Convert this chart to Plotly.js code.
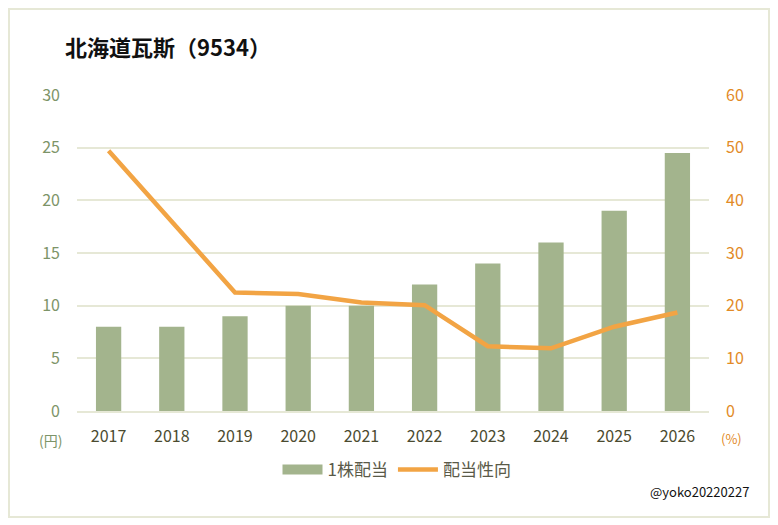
<!DOCTYPE html>
<html>
<head>
<meta charset="utf-8">
<script src="https://cdn.plot.ly/plotly-3.0.1.min.js"></script>
<style>
  html, body { margin: 0; padding: 0; background: #fff; }
  #chart { width: 778px; height: 525px; }
</style>
</head>
<body>
<div id="chart"></div>
<script>
// 北海道瓦斯 dividend data
const years = ["2017", "2018", "2019", "2020", "2021", "2022", "2023", "2024", "2025", "2026"];
const dividend = [8, 8, 9, 10, 10, 12, 14, 16, 19, 24.5];
const payoutRatio = [49.4, 36.1, 22.5, 22.2, 20.6, 20.1, 12.3, 11.9, 16.0, 18.7];

const chartDiv = document.getElementById("chart");
const font = '"Noto Sans CJK JP", "Noto Sans", sans-serif';
const gridColor = "#e6e8d6";
const barColor = '#a3b48d';

const barTrace = {
    x: years,
    y: dividend,
    type: 'bar',
    name: '1株配当',
    marker: { color: barColor },
    showlegend: false,
    yaxis: 'y'
};

// legend entry for the bars, drawn as a wide block like the original
const barLegend = {
    x: [null],
    y: [null],
    type: 'scatter',
    mode: 'lines',
    name: '1株配当',
    line: { color: barColor, width: 10 },
    hoverinfo: 'skip'
};

const lineTrace = {
    x: years,
    y: payoutRatio,
    type: 'scatter',
    mode: 'lines',
    name: '配当性向',
    line: { color: '#f2a444', width: 4.5 },
    yaxis: 'y2'
};

const layout = {
    width: 778,
    height: 525,
    margin: { l: 77, r: 69, t: 95, b: 114 },
    paper_bgcolor: '#ffffff',
    plot_bgcolor: '#ffffff',
    font: { family: font, size: 15 },
    title: {
        text: '<b>北海道瓦斯（9534）</b>',
        xref: 'container', yref: 'container',
        x: 65 / 778, y: 1 - 48 / 525,
        xanchor: 'left', yanchor: 'middle',
        font: { family: font, size: 22, color: '#111111' }
    },
    bargap: 0.6,
    xaxis: {
        type: 'category',
        showgrid: false,
        showline: true,
        linecolor: gridColor,
        linewidth: 2,
        ticks: '',
        ticklabelstandoff: 10,
        tickfont: { color: '#4b4b30', size: 16 }
    },
    yaxis: {
        range: [0, 30],
        dtick: 5,
        showgrid: true,
        gridcolor: gridColor,
        gridwidth: 2,
        zeroline: false,
        ticks: '',
        ticklabelstandoff: 16,
        tickfont: { color: '#7d9468', size: 16 }
    },
    yaxis2: {
        overlaying: 'y',
        side: 'right',
        range: [0, 60],
        dtick: 10,
        showgrid: false,
        zeroline: false,
        ticks: '',
        ticklabelstandoff: 16,
        tickfont: { color: '#e28a26', size: 16 }
    },
    showlegend: true,
    legend: {
        orientation: 'h',
        traceorder: 'normal',
        x: (397 - 77) / 632, xanchor: 'center',
        y: (411 - 470) / 316, yanchor: 'middle',
        itemwidth: 40,
        font: { color: '#5a5a48', size: 17 }
    },
    annotations: [
        {
            text: '(円)', xref: 'paper', yref: 'paper',
            x: (50 - 77) / 632, y: (411 - 440) / 316,
            xanchor: 'center', yanchor: 'middle',
            showarrow: false, font: { color: '#7d9468', size: 14 }
        },
        {
            text: '(%)', xref: 'paper', yref: 'paper',
            x: (731 - 77) / 632, y: (411 - 438) / 316,
            xanchor: 'center', yanchor: 'middle',
            showarrow: false, font: { color: '#e28a26', size: 13 }
        },
        {
            text: '@yoko20220227', xref: 'paper', yref: 'paper',
            x: (751 - 77) / 632, y: (411 - 491) / 316,
            xanchor: 'right', yanchor: 'middle', showarrow: false,
            font: { color: '#111111', size: 13 }
        }
    ],
    shapes: [
        {
            type: 'rect', xref: 'paper', yref: 'paper',
            x0: (9 - 77) / 632, x1: (769 - 77) / 632,
            y0: (411 - 517) / 316, y1: (411 - 9) / 316,
            line: { color: gridColor, width: 2 }
        }
    ]
};

Plotly.newPlot(chartDiv, [barTrace, barLegend, lineTrace], layout, { displayModeBar: false });
</script>
</body>
</html>
